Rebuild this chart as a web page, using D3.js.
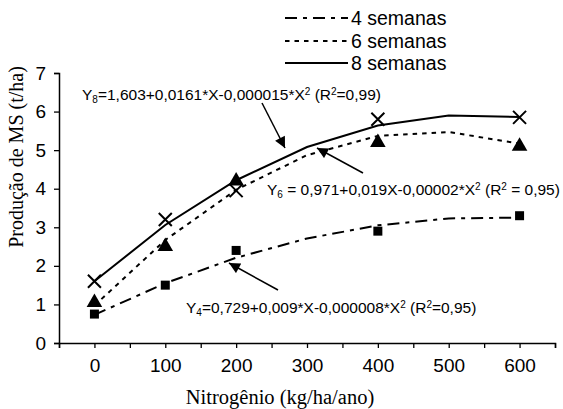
<!DOCTYPE html>
<html><head><meta charset="utf-8">
<script src="https://cdn.jsdelivr.net/npm/d3@7"></script>
<style>body{margin:0;background:#fff}svg{display:block}</style>
</head><body>
<svg id="c" width="563" height="409"></svg>
<script>
const nitrogen = [0, 100, 200, 300, 400, 500, 600];
// fitted curves
const fit4 = [0.73, 1.55, 2.21, 2.71, 3.05, 3.23, 3.25];
const fit6 = [0.97, 2.67, 3.97, 4.87, 5.37, 5.47, 5.17];
const fit8 = [1.60, 3.06, 4.22, 5.08, 5.64, 5.90, 5.86];
// observed points
const obsX = [0, 100, 200, 400, 600];
const obs4 = [0.75, 1.5, 2.4, 2.9, 3.3];
const obs6 = [1.05, 2.5, 4.2, 5.2, 5.1];
const obs8 = [1.6, 3.2, 3.95, 5.8, 5.85];
const yTicks = [0, 1, 2, 3, 4, 5, 6, 7];
const xTickLabels = [0, 100, 200, 300, 400, 500, 600];
const seriesNames = ["4 semanas", "6 semanas", "8 semanas"];

const svg = d3.select("#c");
const x = d3.scaleLinear().domain([-50, 650]).range([59, 555]);
const y = d3.scaleLinear().domain([0, 7]).range([343, 73]);
const sans = "Liberation Sans, Arial, sans-serif";
const serif = "Liberation Serif, Times New Roman, serif";

// y axis
const yAx = svg.append("g").attr("transform", `translate(${x(-50)},0)`)
  .call(d3.axisLeft(y).tickValues(yTicks).tickSize(5).tickPadding(8).tickFormat(d3.format("d")));
yAx.selectAll("text").attr("font-family", sans).attr("font-size", 19).attr("fill", "#000");
yAx.select(".domain").attr("stroke", "#000").attr("stroke-width", 1.5);
yAx.selectAll(".tick line").attr("stroke", "#000").attr("stroke-width", 1.3);

// x axis
const xAx = svg.append("g").attr("transform", `translate(0,${y(0)})`)
  .call(d3.axisBottom(x).tickValues(d3.range(-50, 651, 50)).tickSize(5).tickPadding(6)
    .tickFormat(d => xTickLabels.includes(d) ? d : ""));
xAx.selectAll("text").attr("font-family", sans).attr("font-size", 19).attr("fill", "#000").attr("dy", "0.95em");
xAx.select(".domain").attr("stroke", "#000").attr("stroke-width", 1.5);
xAx.selectAll(".tick line").attr("stroke", "#000").attr("stroke-width", 1.3);

// axis titles
svg.append("text").attr("x", 280).attr("y", 404).attr("text-anchor", "middle")
  .attr("font-family", serif).attr("font-size", 20.5).text("Nitrogênio (kg/ha/ano)");
svg.append("text").attr("transform", "translate(23,157) rotate(-90)").attr("text-anchor", "middle")
  .attr("font-family", serif).attr("font-size", 20).text("Produção de MS (t/ha)");

// lines
const styles = [
  {dash: "12,6,4,6", data: fit4},
  {dash: "4.5,5", data: fit6},
  {dash: null, data: fit8}
];
const line = d3.line().x((d, i) => x(nitrogen[i])).y(d => y(d));
styles.forEach(s => {
  svg.append("path").datum(s.data).attr("d", line).attr("fill", "none")
    .attr("stroke", "#000").attr("stroke-width", 2).attr("stroke-dasharray", s.dash);
});

// markers
svg.append("g").selectAll("rect").data(obs4).join("rect")
  .attr("x", (d, i) => x(obsX[i]) - 4.5).attr("y", d => y(d) - 4.5)
  .attr("width", 9).attr("height", 9).attr("fill", "#000");
const tri = d3.symbol().type(d3.symbolTriangle).size(105);
svg.append("g").selectAll("path").data(obs6).join("path")
  .attr("d", tri).attr("transform", (d, i) => `translate(${x(obsX[i])},${y(d)})`).attr("fill", "#000");
svg.append("g").selectAll("path").data(obs8).join("path")
  .attr("d", "M-6.5,-6.5L6.5,6.5M-6.5,6.5L6.5,-6.5").attr("transform", (d, i) => `translate(${x(obsX[i])},${y(d)})`)
  .attr("stroke", "#000").attr("stroke-width", 2).attr("fill", "none");

// legend
const legY = [18, 41, 63];
seriesNames.forEach((n, i) => {
  svg.append("line").attr("x1", 285).attr("x2", 348).attr("y1", legY[i]).attr("y2", legY[i])
    .attr("stroke", "#000").attr("stroke-width", 2).attr("stroke-dasharray", styles[i].dash);
  svg.append("text").attr("x", 351).attr("y", legY[i]).attr("dy", "0.35em")
    .attr("font-family", sans).attr("font-size", 19.5).text(n);
});

// equations
function eq(xp, yp, parts) {
  const t = svg.append("text").attr("x", xp).attr("y", yp).attr("dy", "0.35em")
    .attr("font-family", sans).attr("font-size", 15.5);
  parts.forEach(p => {
    const ts = t.append("tspan").text(p[0]);
    if (p[1] === "sub") ts.attr("font-size", 10).attr("baseline-shift", "-25%");
    if (p[1] === "sup") ts.attr("font-size", 10).attr("baseline-shift", "55%");
  });
}
eq(82, 95, [["Y"], ["8", "sub"], ["=1,603+0,0161*X-0,000015*X"], ["2", "sup"], [" (R"], ["2", "sup"], ["=0,99)"]]);
eq(267, 190, [["Y"], ["6", "sub"], [" = 0,971+0,019X-0,00002*X"], ["2", "sup"], [" (R"], ["2", "sup"], [" = 0,95)"]]);
eq(186, 308, [["Y"], ["4", "sub"], ["=0,729+0,009*X-0,000008*X"], ["2", "sup"], [" (R"], ["2", "sup"], ["=0,95)"]]);

// arrows
svg.append("defs").append("marker").attr("id", "ah").attr("viewBox", "0 0 10 10")
  .attr("refX", 10).attr("refY", 5).attr("markerWidth", 13).attr("markerHeight", 11)
  .attr("markerUnits", "userSpaceOnUse").attr("orient", "auto")
  .append("path").attr("d", "M0,0L10,5L0,10Z").attr("fill", "#000");
const arrows = [[262, 103, 285, 148], [363, 173, 317, 148], [278, 290, 229, 263]];
arrows.forEach(a => {
  svg.append("line").attr("x1", a[0]).attr("y1", a[1]).attr("x2", a[2]).attr("y2", a[3])
    .attr("stroke", "#000").attr("stroke-width", 1.5).attr("marker-end", "url(#ah)");
});
</script>
</body></html>
